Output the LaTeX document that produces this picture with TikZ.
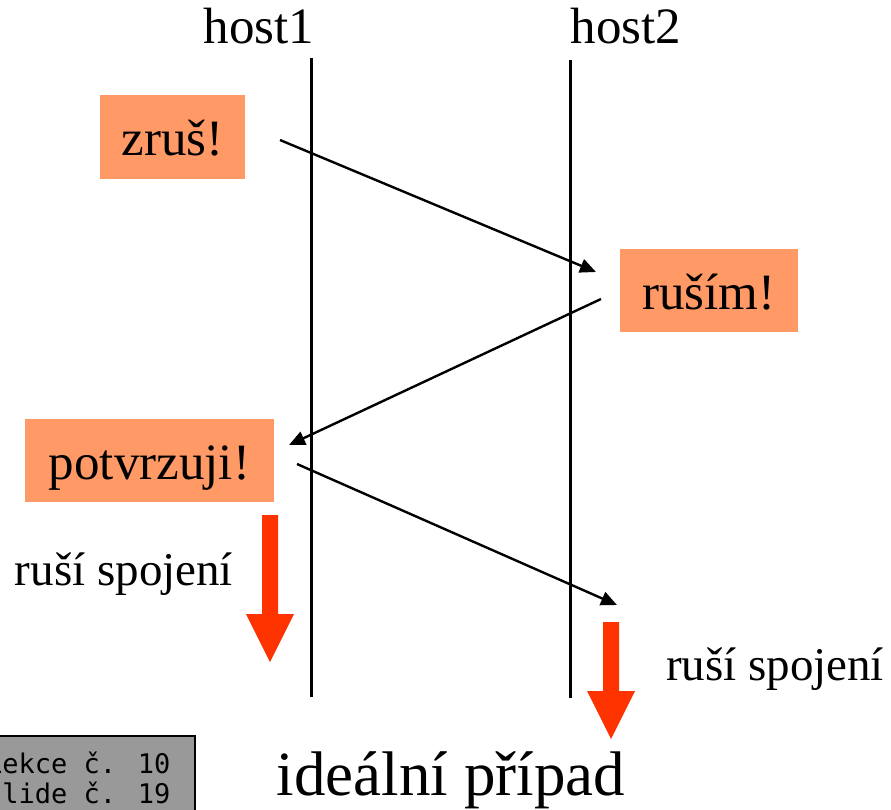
\documentclass[tikz,border=0pt]{standalone}
\usepackage{fontspec}
\setmainfont{Liberation Serif}
\newfontfamily\monofnt{DejaVu Sans Mono}
\usetikzlibrary{arrows.meta}
\definecolor{salmon}{HTML}{FF9966}
\definecolor{redarrow}{HTML}{FF3300}
\definecolor{graybox}{HTML}{999999}
\tikzset{
  msgbox/.style={fill=salmon, inner sep=0pt, font=\fontsize{51}{51}\selectfont, text height=37pt, text depth=0pt},
  lifeline/.style={line width=3pt},
  msg/.style={line width=2.4pt, -{Triangle[length=16pt,width=14pt]}},
  lbl/.style={inner sep=0pt, anchor=base},
  blockarrow/.style={fill=redarrow, draw=none}
}
\begin{document}
\begin{tikzpicture}[x=1pt,y=-1pt]
\useasboundingbox (0,0) rectangle (891,809);
\clip (0,0) rectangle (891,809);
% host labels
\node[lbl, font=\fontsize{51}{51}\selectfont] (h1) at (259,43) {host1};
\node[lbl, font=\fontsize{51}{51}\selectfont] (h2) at (626,43) {host2};
% lifelines
\coordinate (l1t) at (311,58);
\coordinate (l1b) at (311,697);
\coordinate (l2t) at (570,60);
\coordinate (l2b) at (570,698);
\draw[lifeline] (l1t) -- (l1b);
\draw[lifeline] (l2t) -- (l2b);
% message boxes
\node[msgbox, minimum width=145pt, minimum height=84pt] (zrus) at (172.5,137) {zruš!};
\node[msgbox, minimum width=178pt, minimum height=83pt] (rusim) at (709,290.5) {ruším!};
\node[msgbox, minimum width=249pt, minimum height=83pt] (potv) at (149.5,460.5) {potvrzuji!};
% connector end points
\coordinate (a1s) at (280,140);
\coordinate (a1e) at (596,272);
\coordinate (a2s) at (601,299);
\coordinate (a2e) at (289,445);
\coordinate (a3s) at (297,464);
\coordinate (a3e) at (617,605);
\draw[msg] (a1s) -- (a1e);
\draw[msg] (a2s) -- (a2e);
\draw[msg] (a3s) -- (a3e);
% red block arrows
\fill[blockarrow] (262,515) -- (278,515) -- (278,614) -- (294,614) -- (270,662) -- (246,614) -- (262,614) -- cycle;
\fill[blockarrow] (603,622) -- (619,622) -- (619,691) -- (635,691) -- (611,739) -- (587,691) -- (603,691) -- cycle;
% labels
\node[lbl, font=\fontsize{47}{47}\selectfont] (r1) at (124,585) {ruší spojení};
\node[lbl, font=\fontsize{47}{47}\selectfont] (r2) at (775,680) {ruší spojení};
\node[lbl, font=\fontsize{63}{63}\selectfont] (title) at (451,795) {ideální případ};
% gray slide box
\draw[fill=graybox, line width=2pt] (-20,736) rectangle (195,830);
\node[inner sep=0pt, anchor=base west, font=\monofnt\fontsize{27}{27}\selectfont] (lek) at (-14,773) {Lekce č. 10};
\node[inner sep=0pt, anchor=base west, font=\monofnt\fontsize{27}{27}\selectfont] (sld) at (-14,803) {slide č. 19};
\end{tikzpicture}
\end{document}
